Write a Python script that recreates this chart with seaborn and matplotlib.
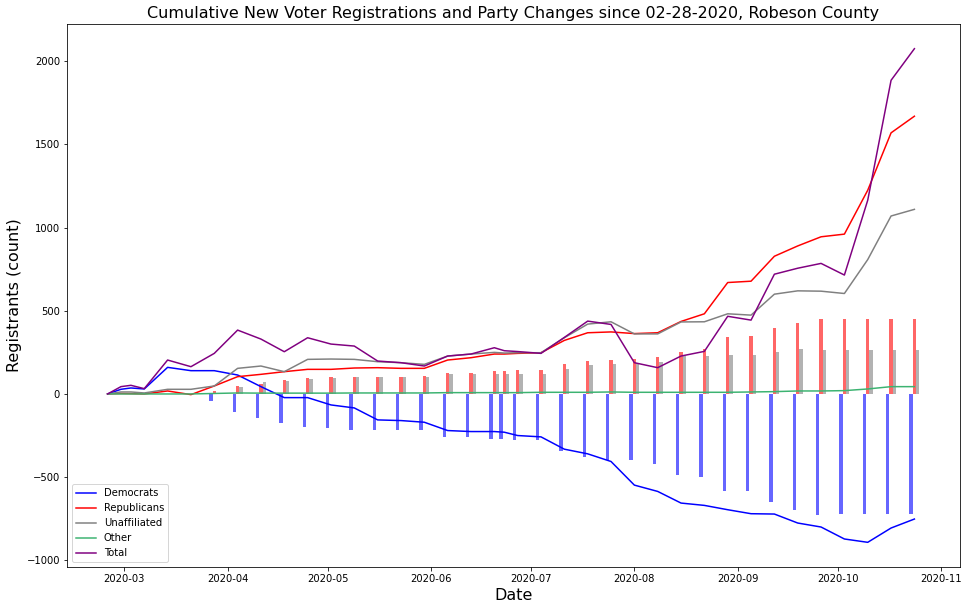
import matplotlib
matplotlib.use("Agg")
import matplotlib.pyplot as plt
import seaborn as sns
import pandas as pd
import numpy as np

dates = ['2020-02-25', '2020-02-29', '2020-03-03', '2020-03-07', '2020-03-14', '2020-03-21',
         '2020-03-28', '2020-04-04', '2020-04-11', '2020-04-18', '2020-04-25', '2020-05-02',
         '2020-05-09', '2020-05-16', '2020-05-23', '2020-05-30', '2020-06-06', '2020-06-13',
         '2020-06-20', '2020-06-23', '2020-06-27', '2020-07-04', '2020-07-11', '2020-07-18',
         '2020-07-25', '2020-08-01', '2020-08-08', '2020-08-15', '2020-08-22', '2020-08-29',
         '2020-09-05', '2020-09-12', '2020-09-19', '2020-09-26', '2020-10-03', '2020-10-10',
         '2020-10-17', '2020-10-24']

democrats = [0, 28, 36, 30, 160, 140, 140, 114, 44, -22, -22, -66, -84, -156, -160, -170,
             -220, -226, -226, -230, -250, -258, -332, -360, -406, -548, -586, -656, -670,
             -696, -720, -722, -776, -800, -872, -892, -806, -752]
republicans = [0, 3, 2, 0, 18, -4, 48, 104, 118, 134, 148, 148, 156, 158, 154, 154,
               204, 218, 240, 240, 244, 248, 322, 368, 373, 363, 368, 436, 482,
               670, 678, 828, 890, 945, 961, 1225, 1570, 1670]
unaffiliated = [0, 12, 12, 6, 28, 28, 48, 154, 168, 134, 208, 210, 208, 194, 188, 178,
                228, 240, 250, 246, 248, 248, 338, 420, 434, 361, 361, 433, 434,
                482, 474, 600, 620, 618, 604, 808, 1070, 1110]
other = [0, 0, 0, 0, 0, 0, 3, 6, 5, 5, 5, 5, 6, 6, 6, 6,
         8, 8, 8, 8, 8, 10, 10, 10, 12, 10, 10, 10, 10,
         10, 12, 14, 18, 18, 20, 30, 44, 44]
total = [0, 44, 52, 32, 204, 164, 244, 384, 330, 254, 338, 300, 288, 198, 188, 168,
         228, 240, 278, 260, 255, 244, 340, 438, 418, 188, 158, 228, 256,
         467, 444, 720, 756, 785, 715, 1165, 1886, 2076]

# cumulative party changes (bars)
bar_dates = dates[6:]
dem_changes = [-40, -106, -142, -172, -196, -202, -214, -214, -214, -214,
               -256, -256, -268, -268, -276, -276, -340, -382, -400, -400, -424, -490, -500,
               -586, -586, -652, -700, -726, -722, -722, -722, -722]
rep_changes = [20, 48, 60, 84, 96, 102, 102, 102, 102, 108,
               126, 126, 140, 140, 144, 144, 180, 198, 204, 210, 220, 250, 270,
               342, 348, 396, 426, 450, 450, 450, 450, 450]
unaff_changes = [0, 42, 72, 78, 90, 96, 102, 102, 102, 102,
                 120, 120, 120, 120, 120, 120, 150, 174, 180, 188, 192, 226, 228,
                 234, 234, 252, 270, 266, 266, 266, 266, 266]

series_names = ['Democrats', 'Republicans', 'Unaffiliated', 'Other', 'Total']
series_values = [democrats, republicans, unaffiliated, other, total]
series_colors = ['blue', 'red', 'gray', 'mediumseagreen', 'purple']

x = pd.to_datetime(dates)
xb = pd.to_datetime(bar_dates)
day = pd.Timedelta(days=1)

W, H, DPI = 968, 611, 72
fig = plt.figure(figsize=(W / DPI, H / DPI), dpi=DPI)
ax = fig.add_axes([67 / W, 1 - 567 / H, (960 - 67) / W, (567 - 24) / H])

for name, vals, col in zip(series_names, series_values, series_colors):
    sns.lineplot(x=x, y=vals, color=col, label=name, ax=ax, linewidth=1.5)

ax.bar(xb - day, dem_changes, width=1, color='blue', alpha=0.6)
ax.bar(xb, rep_changes, width=1, color='red', alpha=0.6)
ax.bar(xb + day, unaff_changes, width=1, color='gray', alpha=0.6)

ax.set_title('Cumulative New Voter Registrations and Party Changes since 02-28-2020, Robeson County',
             fontsize=16)
ax.set_xlabel('Date', fontsize=16)
ax.set_ylabel('Registrants (count)', fontsize=16)
ax.tick_params(labelsize=10)
ax.legend(loc='lower left', fontsize=10)

fig.savefig('out.png', dpi=DPI)
